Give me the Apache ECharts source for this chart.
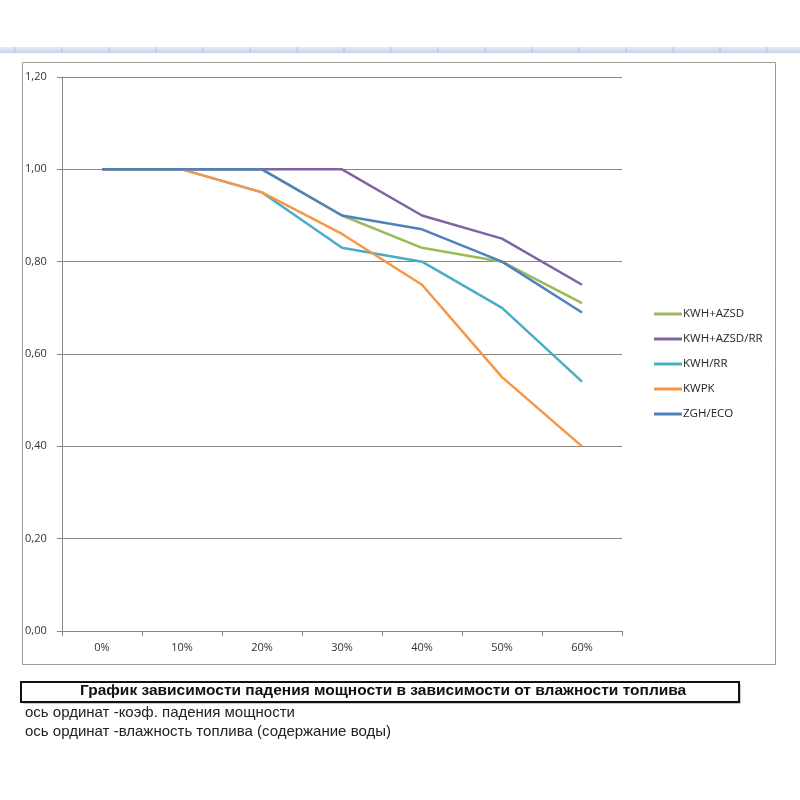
<!DOCTYPE html>
<html>
<head>
<meta charset="utf-8">
<script src="https://cdn.jsdelivr.net/npm/echarts@6/dist/echarts.min.js"></script>
<style>
  html, body { margin: 0; padding: 0; background: #fff; }
  #chart { width: 800px; height: 800px; }
</style>
</head>
<body>
<div id="chart"></div>
<script>
  // влажность топлива
  const categories = ['0%', '10%', '20%', '30%', '40%', '50%', '60%'];

  const kwhAzsd = [1.0, 1.0, 1.0, 0.90, 0.83, 0.80, 0.71];
  const kwhAzsdRr = [1.0, 1.0, 1.0, 1.0, 0.90, 0.85, 0.75];
  const kwhRr = [1.0, 1.0, 0.95, 0.83, 0.80, 0.70, 0.54];
  const kwpk = [1.0, 1.0, 0.95, 0.86, 0.75, 0.55, 0.40];
  const zghEco = [1.0, 1.0, 1.0, 0.90, 0.87, 0.80, 0.69];

  const seriesNames = ['KWH+AZSD', 'KWH+AZSD/RR', 'KWH/RR', 'KWPK', 'ZGH/ECO'];
  const seriesData = [kwhAzsd, kwhAzsdRr, kwhRr, kwpk, zghEco];
  const colors = ['#9BBB59', '#8064A2', '#4BACC6', '#F79646', '#4F81BD'];

  const titleText = 'График зависимости падения мощности в зависимости от влажности топлива';
  const noteLines = [
    'ось ординат -коэф. падения мощности',
    'ось ординат -влажность топлива (содержание воды)',
  ];

  const chart = echarts.init(document.getElementById('chart'));

  // полоска сверху (как в Excel)
  const topStrip = [
    {
      type: 'rect',
      shape: { x: 0, y: 47, width: 800, height: 6 },
      style: {
        fill: new echarts.graphic.LinearGradient(0, 0, 0, 1, [
          { offset: 0, color: '#e4ebf5' },
          { offset: 1, color: '#c5d3e6' },
        ]),
      },
      silent: true,
    },
  ];
  for (let x = 15; x < 800; x += 47) {
    topStrip.push({
      type: 'line',
      shape: { x1: x, y1: 47, x2: x, y2: 53 },
      style: { stroke: '#b5c3d8', lineWidth: 1 },
      silent: true,
    });
  }

  const labelFont = 'Open Sans, Liberation Sans, sans-serif';
  const noteFont = '"Liberation Sans", Arial, sans-serif';

  const option = {
    animation: false,
    color: colors,
    grid: {
      left: 62,
      right: 178,
      top: 77,
      bottom: 169,
    },
    legend: {
      orient: 'vertical',
      left: 649,
      top: 302,
      icon: 'rect',
      itemWidth: 28,
      itemHeight: 3,
      itemGap: 11,
      textStyle: {
        fontFamily: labelFont,
        fontSize: 11.5,
        color: '#262626',
        lineHeight: 14,
        padding: [0, 0, 0, -4],
      },
      data: seriesNames,
    },
    xAxis: {
      type: 'category',
      data: categories,
      boundaryGap: true,
      axisLine: { lineStyle: { color: '#868686', width: 1 } },
      axisTick: { show: true, alignWithLabel: false, length: 5, lineStyle: { color: '#868686' } },
      axisLabel: {
        color: '#333',
        fontSize: 11,
        fontFamily: labelFont,
        margin: 11,
      },
      splitLine: { show: false },
    },
    yAxis: {
      type: 'value',
      min: 0,
      max: 1.2,
      interval: 0.2,
      axisLine: { show: true, lineStyle: { color: '#868686', width: 1 } },
      axisTick: { show: true, length: 5, lineStyle: { color: '#868686' } },
      axisLabel: {
        color: '#333',
        fontSize: 11,
        fontFamily: labelFont,
        align: 'left',
        margin: 37,
        formatter: (v) => v.toFixed(2).replace('.', ','),
      },
      splitLine: { show: true, lineStyle: { color: '#868686', width: 1 } },
    },
    series: seriesNames.map((name, i) => ({
      name,
      type: 'line',
      data: seriesData[i],
      symbol: 'none',
      lineStyle: { width: 2.5, color: colors[i] },
      itemStyle: { color: colors[i] },
      z: 2 + i,
    })),
    graphic: [
      ...topStrip,
      // рамка диаграммы
      {
        type: 'rect',
        shape: { x: 22.5, y: 62.5, width: 753, height: 602 },
        style: { fill: 'none', stroke: '#9a9a9a', lineWidth: 1 },
        silent: true,
        z: -1,
      },
      // рамка заголовка
      {
        type: 'rect',
        shape: { x: 23, y: 684, width: 718, height: 20 },
        style: { fill: '#c8c8c8', stroke: 'none' },
        silent: true,
      },
      {
        type: 'rect',
        shape: { x: 21, y: 682, width: 718, height: 20 },
        style: { fill: '#fff', stroke: '#111', lineWidth: 2 },
        silent: true,
      },
      {
        type: 'text',
        left: 80,
        top: 683,
        style: {
          text: titleText,
          fill: '#111',
          font: 'bold 15.5px ' + noteFont,
        },
        silent: true,
      },
      {
        type: 'text',
        left: 25,
        top: 705,
        style: {
          text: noteLines[0],
          fill: '#222',
          font: '15px ' + noteFont,
        },
        silent: true,
      },
      {
        type: 'text',
        left: 25,
        top: 724,
        style: {
          text: noteLines[1],
          fill: '#222',
          font: '15px ' + noteFont,
        },
        silent: true,
      },
    ],
  };

  chart.setOption(option);
</script>
</body>
</html>
